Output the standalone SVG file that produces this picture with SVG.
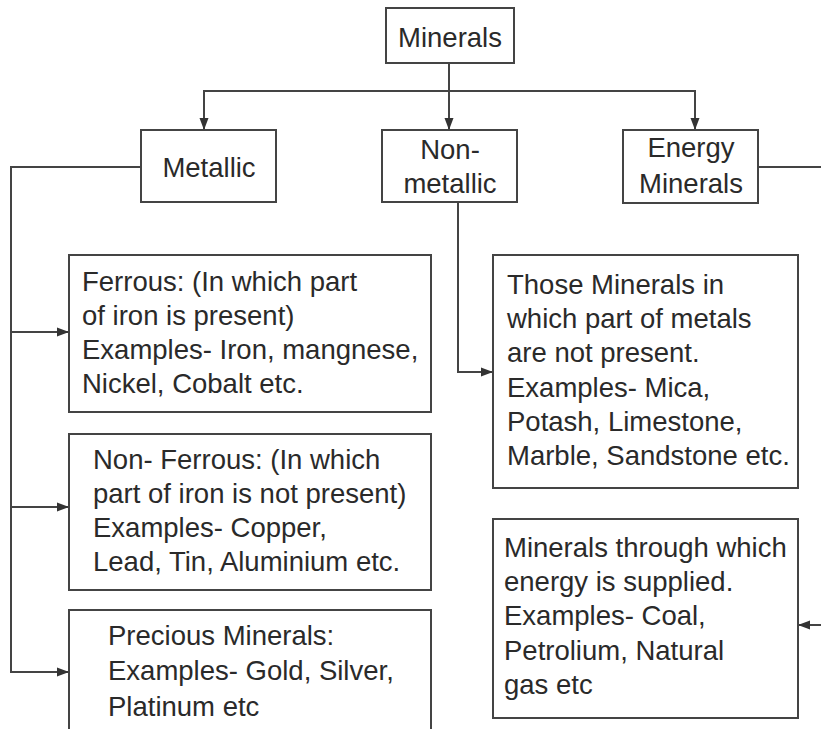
<svg xmlns="http://www.w3.org/2000/svg" width="821" height="729" viewBox="0 0 821 729">
<defs>
<marker id="arr" markerWidth="12" markerHeight="10" refX="12" refY="5" orient="auto" markerUnits="userSpaceOnUse">
<path d="M0,0.5 L12,5 L0,9.5 Z" fill="#333"/>
</marker>
<style>
.box{fill:#fff;stroke:#444;stroke-width:2}
.t{font-family:"Liberation Sans",Arial,sans-serif;font-size:27.5px;fill:#2a2a2a}
.c{text-anchor:middle}
.ln{fill:none;stroke:#444;stroke-width:2}
</style>
</defs>
<rect width="821" height="729" fill="#fff"/>
<g id="connectors">
<path class="ln" d="M449,63 V130" marker-end="url(#arr)"/>
<path class="ln" d="M204,130 V91 H695 V130" marker-end="url(#arr)"/>
<path class="ln" d="M204,91 V130" marker-end="url(#arr)"/>
<path class="ln" d="M141,167 H11 V672 H69" marker-end="url(#arr)"/>
<path class="ln" d="M11,332 H69" marker-end="url(#arr)"/>
<path class="ln" d="M11,507 H69" marker-end="url(#arr)"/>
<path class="ln" d="M458,202 V372 H493" marker-end="url(#arr)"/>
<path class="ln" d="M758,167 H821"/>
<path class="ln" d="M821,625 H798" marker-end="url(#arr)"/>
</g>
<g id="minerals">
<rect class="box" x="386" y="8" width="128" height="55"/>
<text class="t c" x="450" y="47">Minerals</text>
</g>
<g id="metallic">
<rect class="box" x="141" y="130" width="135" height="72"/>
<text class="t c" x="209" y="177">Metallic</text>
</g>
<g id="nonmetallic">
<rect class="box" x="382" y="130" width="135" height="72"/>
<text class="t c" x="450" y="159">Non-</text>
<text class="t c" x="450" y="193">metallic</text>
</g>
<g id="energy">
<rect class="box" x="623" y="130" width="135" height="73"/>
<text class="t c" x="691" y="157">Energy</text>
<text class="t c" x="691" y="193">Minerals</text>
</g>
<g id="ferrous">
<rect class="box" x="69" y="255" width="362" height="157"/>
<text class="t" x="82" y="291">Ferrous: (In which part</text>
<text class="t" x="82" y="325">of iron is present)</text>
<text class="t" x="82" y="359">Examples- Iron, mangnese,</text>
<text class="t" x="82" y="393">Nickel, Cobalt etc.</text>
</g>
<g id="nonferrous">
<rect class="box" x="69" y="434" width="362" height="156"/>
<text class="t" x="93" y="469">Non- Ferrous: (In which</text>
<text class="t" x="93" y="503">part of iron is not present)</text>
<text class="t" x="93" y="537">Examples- Copper,</text>
<text class="t" x="93" y="571">Lead, Tin, Aluminium etc.</text>
</g>
<g id="precious">
<rect class="box" x="69" y="610" width="362" height="130"/>
<text class="t" x="108" y="645">Precious Minerals:</text>
<text class="t" x="108" y="680">Examples- Gold, Silver,</text>
<text class="t" x="108" y="716">Platinum etc</text>
</g>
<g id="nonmetallic-desc">
<rect class="box" x="493" y="255" width="305" height="233"/>
<text class="t" x="507" y="294">Those Minerals in</text>
<text class="t" x="507" y="328">which part of metals</text>
<text class="t" x="507" y="362">are not present.</text>
<text class="t" x="507" y="397">Examples- Mica,</text>
<text class="t" x="507" y="431">Potash, Limestone,</text>
<text class="t" x="507" y="465">Marble, Sandstone etc.</text>
</g>
<g id="energy-desc">
<rect class="box" x="493" y="519" width="305" height="199"/>
<text class="t" x="504" y="557">Minerals through which</text>
<text class="t" x="504" y="591">energy is supplied.</text>
<text class="t" x="504" y="625">Examples- Coal,</text>
<text class="t" x="504" y="660">Petrolium, Natural</text>
<text class="t" x="504" y="694">gas etc</text>
</g>
</svg>
